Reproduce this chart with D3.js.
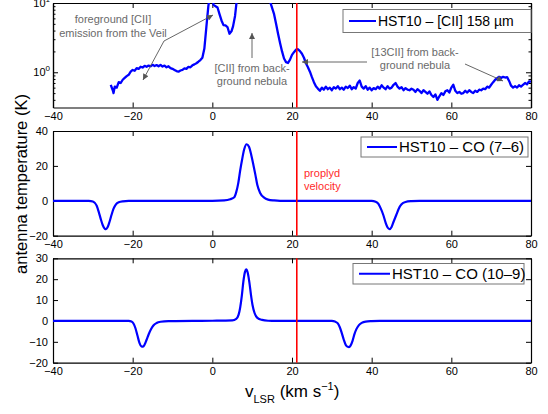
<!DOCTYPE html>
<html><head><meta charset="utf-8">
<script src="https://cdn.jsdelivr.net/npm/d3@7"></script>
<style>body{margin:0;background:#fff}svg{display:block;font-family:"Liberation Sans",Arial,Helvetica,sans-serif}</style>
</head><body><svg id="c" width="548" height="414"></svg>
<script>
// ---- data ----
const xTicks = [-40,-20,0,20,40,60,80];
const ciiMajor = [1,10];
const ciiMinor = [0.4,0.5,0.6,0.7,0.8,0.9,2,3,4,5,6,7,8,9];
const co76Ticks = [-20,0,20,40];
const co109Ticks = [-20,-10,0,10,20,30];
const proplydV = 21.2;

const ciiV = [-25.5,-25.0,-24.8,-24.5,-24.0,-23.5,-23.0,-22.5,-22.0,-21.5,-21.0,-20.5,-20.0,-19.5,-19.0,-18.5,-18.0,-17.5,-17.0,-16.5,-16.0,-15.5,-15.0,-14.5,-14.0,-13.5,-13.0,-12.5,-12.0,-11.5,-11.0,-10.5,-10.0,-9.5,-9.0,-8.5,-8.0,-7.5,-7.0,-6.5,-6.0,-5.5,-5.0,-4.5,-4.0,-3.5,-3.0,-2.5,-2.0,-1.5,-1.0,-0.5,0.0,0.3,0.8,1.3,1.8,2.3,2.8,3.3,3.8,4.3,4.8,5.2,5.7,6.1,6.5,7.5,9.0,11.0,13.0,14.0,14.5,15.0,15.5,16.0,16.5,17.0,17.5,18.0,18.5,19.0,19.5,20.0,20.5,21.0,21.5,22.0,22.5,23.0,23.5,24.0,24.5,25.0,25.5,26.0,26.5,27.0,27.5,28.0,28.5,29.0,29.5,30.0,30.5,31.0,31.5,32.0,32.5,33.0,33.5,34.0,34.5,35.0,35.5,36.0,36.5,37.0,37.5,38.0,38.5,39.0,39.5,40.0,40.5,41.0,41.5,42.0,42.5,43.0,43.5,44.0,44.5,45.0,45.5,46.0,46.5,47.0,47.5,48.0,48.5,49.0,49.5,50.0,50.5,51.0,51.5,52.0,52.5,53.0,53.5,54.0,54.5,55.0,55.5,56.0,56.5,57.0,57.5,58.0,58.5,59.0,59.5,60.0,60.5,61.0,61.5,62.0,62.5,63.0,63.5,64.0,64.5,65.0,65.5,66.0,66.5,67.0,67.5,68.0,68.5,69.0,69.5,70.0,70.5,71.0,71.5,72.0,72.5,73.0,73.5,74.0,74.5,75.0,75.5,76.0,76.5,77.0,77.5,78.0,78.5,79.0,79.5,80.0];
const ciiT = [0.66,0.55,0.50,0.62,0.60,0.72,0.70,0.78,0.83,0.88,0.92,1.02,1.08,1.05,1.15,1.12,1.20,1.17,1.24,1.20,1.25,1.22,1.28,1.23,1.27,1.22,1.28,1.21,1.25,1.18,1.22,1.15,1.12,1.08,1.04,1.02,1.06,1.08,1.14,1.12,1.20,1.18,1.26,1.30,1.35,1.42,1.50,1.62,2.2,4.5,9.0,14,13,9.4,9.0,8.6,6.9,5.6,4.8,4.75,4.5,3.6,3.9,4.6,6.5,10.5,15,22,30,32,20,12,10.5,8.5,6.9,5.0,3.6,2.65,2.0,1.58,1.40,1.36,1.52,1.78,1.95,2.12,2.15,2.02,1.85,1.62,1.35,1.18,1.02,0.85,0.72,0.63,0.58,0.54,0.60,0.56,0.62,0.57,0.60,0.55,0.61,0.58,0.63,0.57,0.60,0.56,0.62,0.59,0.64,0.57,0.61,0.58,0.70,0.76,0.62,0.58,0.63,0.56,0.60,0.55,0.59,0.57,0.62,0.58,0.65,0.60,0.57,0.63,0.58,0.60,0.66,0.70,0.62,0.58,0.61,0.55,0.59,0.56,0.55,0.58,0.56,0.52,0.57,0.54,0.50,0.55,0.52,0.49,0.53,0.47,0.44,0.48,0.40,0.45,0.50,0.47,0.53,0.55,0.51,0.60,0.66,0.54,0.50,0.52,0.49,0.50,0.54,0.51,0.55,0.52,0.50,0.54,0.52,0.56,0.55,0.58,0.57,0.62,0.60,0.66,0.72,0.78,0.82,0.86,0.83,0.86,0.84,0.85,0.75,0.64,0.60,0.63,0.60,0.65,0.62,0.66,0.70,0.67,0.74,0.73];

const co76V = [-40,-32,-31,-30,-29.5,-29,-28.5,-28,-27.5,-27,-26.7,-26.3,-25.8,-25.3,-24.8,-24.2,-23.5,-22.5,-21,0,3,4.5,5.5,6,6.5,7,7.5,8,8.6,9.2,9.8,10.4,10.8,11.3,12,13,14,15.5,17,38,40,41,41.7,42.3,42.9,43.5,44,44.5,45,45.5,46.2,46.8,47.5,48.5,50,52,80];
const co76T = [0,0,0,-0.4,-1.2,-3,-6.5,-10.5,-14,-16,-16.2,-15.2,-12,-8,-4.5,-2,-0.8,-0.3,-0.1,0,0.2,0.9,2,5,10,17.5,24,29.5,32.4,31,26,19.5,15,9,4.5,1.8,0.7,0.2,0,0,0,-0.5,-1.8,-4.5,-8,-12.5,-15.3,-16.2,-15,-12,-8,-4.5,-2,-0.7,-0.2,0,0];

const co109V = [-40,-22,-21,-20.3,-19.8,-19.3,-18.8,-18.3,-17.8,-17.4,-17,-16.5,-16,-15.4,-14.8,-14,-13,-11,-5,0,5,6,6.6,7,7.4,7.8,8.2,8.5,8.9,9.3,9.7,10.1,10.6,11.3,12.5,14,16,28,30,30.8,31.5,32,32.5,33,33.5,34,34.3,34.7,35.2,35.7,36.2,36.8,37.5,38.5,40,42,80];
const co109T = [0,0,0,-0.3,-1.2,-3.5,-7,-10.5,-12.2,-12.3,-11.3,-9,-6.5,-4,-2.2,-1,-0.4,-0.1,0,0.1,0.3,1,3,6.5,12,19,23.5,24.7,23,18.5,12.5,7.5,3.8,1.5,0.5,0.1,0,0,0,-0.3,-1.2,-3,-5.8,-9,-11.5,-12.4,-12.5,-11.8,-9.5,-6.2,-3.8,-2,-0.9,-0.3,-0.1,0,0];

// ---- layout ----
const svg = d3.select("#c");
const L = 53, R = 531;
const x = d3.scaleLinear([-40, 80], [L, R]);
const BLUE = "#0000ff", RED = "#ff0000", GRAY = "#6a6a6a";

const defs = svg.append("defs");
defs.append("marker").attr("id","ah").attr("viewBox","0 0 10 10")
  .attr("refX",10).attr("refY",5).attr("markerWidth",7).attr("markerHeight",6)
  .attr("markerUnits","userSpaceOnUse").attr("orient","auto")
  .append("path").attr("d","M0,0L10,5L0,10z").attr("fill","#555");

function styleAxis(g){
  g.attr("font-size",11).attr("font-family",null);
  g.selectAll("path.domain").attr("stroke","#000").attr("stroke-width",1.2);
  g.selectAll("line").attr("stroke","#000").attr("stroke-width",1);
  g.selectAll("text").attr("fill","#000");
}

function panel(id, y, top, bottom, opts){
  const g = svg.append("g");
  const cp = defs.append("clipPath").attr("id","cp"+id);
  cp.append("rect").attr("x",L).attr("y",top).attr("width",R-L).attr("height",bottom-top);

  g.append("g").attr("transform",`translate(0,${bottom})`)
    .call(d3.axisBottom(x).tickValues(xTicks).tickSize(-5).tickSizeOuter(0).tickPadding(5).tickFormat(d3.format("")))
    .call(styleAxis);
  g.append("g").attr("transform",`translate(0,${top})`)
    .call(d3.axisTop(x).tickValues(xTicks).tickSize(-5).tickSizeOuter(0).tickFormat(""))
    .call(styleAxis);
  if (opts.log){
    g.append("g").attr("transform",`translate(${L},0)`)
      .call(d3.axisLeft(y).tickValues(ciiMajor).tickSize(-5).tickSizeOuter(0).tickFormat(""))
      .call(styleAxis);
    g.append("g").attr("transform",`translate(${L},0)`)
      .call(d3.axisLeft(y).tickValues(ciiMinor).tickSize(-2.5).tickSizeOuter(0).tickFormat(""))
      .call(styleAxis);
    g.append("g").attr("transform",`translate(${R},0)`)
      .call(d3.axisRight(y).tickValues(ciiMajor).tickSize(-5).tickSizeOuter(0).tickFormat(""))
      .call(styleAxis);
    g.append("g").attr("transform",`translate(${R},0)`)
      .call(d3.axisRight(y).tickValues(ciiMinor).tickSize(-2.5).tickSizeOuter(0).tickFormat(""))
      .call(styleAxis);
    ciiMajor.forEach(v=>{
      const t = g.append("text").attr("x",L-3).attr("y",y(v)+4).attr("text-anchor","end").attr("font-size",11);
      t.append("tspan").text("10");
      t.append("tspan").attr("font-size",8).attr("dy",-5).text(Math.round(Math.log10(v)));
    });
  } else {
    g.append("g").attr("transform",`translate(${L},0)`)
      .call(d3.axisLeft(y).tickValues(opts.ticks).tickSize(-5).tickSizeOuter(0).tickPadding(5))
      .call(styleAxis);
    g.append("g").attr("transform",`translate(${R},0)`)
      .call(d3.axisRight(y).tickValues(opts.ticks).tickSize(-5).tickSizeOuter(0).tickFormat(""))
      .call(styleAxis);
  }

  const line = d3.line().x(d=>x(d[0])).y(d=>y(d[1])).curve(opts.curve);
  g.append("path").attr("clip-path",`url(#cp${id})`)
    .datum(d3.zip(opts.v, opts.t)).attr("d",line)
    .attr("fill","none").attr("stroke",BLUE).attr("stroke-width",opts.lw).attr("stroke-linejoin","round");

  g.append("line").attr("x1",x(proplydV)).attr("x2",x(proplydV)).attr("y1",top).attr("y2",bottom)
    .attr("stroke",RED).attr("stroke-width",1.6);

  const lg = opts.legend;
  g.append("rect").attr("x",lg.x).attr("y",lg.y).attr("width",lg.w).attr("height",lg.h)
    .attr("fill","#fff").attr("stroke","#777").attr("stroke-width",1);
  g.append("line").attr("x1",lg.x+6).attr("x2",lg.x+6+lg.ll).attr("y1",lg.y+lg.h/2).attr("y2",lg.y+lg.h/2)
    .attr("stroke",BLUE).attr("stroke-width",2);
  g.append("text").attr("x",lg.x+8+lg.ll).attr("y",lg.y+lg.h/2+5).attr("font-size",lg.fs).text(lg.label);
  return g;
}

panel(1, d3.scaleLog([0.31,10],[107.5,3]), 3, 107.5,
  {log:true, v:ciiV, t:ciiT, curve:d3.curveLinear, lw:2.3,
   legend:{x:343,y:9.5,w:188,h:23,ll:27,fs:14,label:"HST10 – [CII] 158 µm"}});
panel(2, d3.scaleLinear([-20,40],[235.7,131]), 131, 235.7,
  {ticks:co76Ticks, v:co76V, t:co76T, curve:d3.curveMonotoneX, lw:2.2,
   legend:{x:361,y:137,w:167,h:20,ll:30,fs:15,label:"HST10 – CO (7–6)"}});
panel(3, d3.scaleLinear([-20,30],[362.7,258.3]), 258.3, 362.7,
  {ticks:co109Ticks, v:co109V, t:co109T, curve:d3.curveMonotoneX, lw:2.2,
   legend:{x:353,y:263.5,w:171,h:20.5,ll:31,fs:15,label:"HST10 – CO (10–9)"}});

svg.append("text").attr("transform","translate(27,184) rotate(-90)").attr("text-anchor","middle")
  .attr("font-size",16.5).text("antenna temperature (K)");
const xt = svg.append("text").attr("x",245).attr("y",396.5).attr("font-size",17);
xt.append("tspan").text("v");
xt.append("tspan").attr("font-size",11).attr("dy",6).text("LSR");
xt.append("tspan").attr("dy",-6).text(" (km s");
xt.append("tspan").attr("font-size",11).attr("dy",-7).text("−1");
xt.append("tspan").attr("dy",7).text(")");

const ann = svg.append("g").attr("fill",GRAY).attr("font-size",11).attr("text-anchor","middle");
[["foreground [CII]",113,23],["emission from the Veil",113,36.5],
 ["[CII] from back-",252,72],["ground nebula",252,84.5],
 ["[13CII] from back-",415,56],["ground nebula",415,68.5]]
 .forEach(d=>ann.append("text").attr("x",d[1]).attr("y",d[2]).text(d[0]));
const arrows = [[164,41,213,15],[164,41,143,80],[252,58,252,33],[367,62,302,62],[465,64,503,81]];
arrows.forEach(a=>svg.append("line").attr("x1",a[0]).attr("y1",a[1]).attr("x2",a[2]).attr("y2",a[3])
  .attr("stroke","#555").attr("stroke-width",0.9).attr("marker-end","url(#ah)"));

const pv = svg.append("g").attr("fill","#ff2a2a").attr("font-size",11);
pv.append("text").attr("x",304).attr("y",177).text("proplyd");
pv.append("text").attr("x",304).attr("y",190).text("velocity");
</script></body></html>
